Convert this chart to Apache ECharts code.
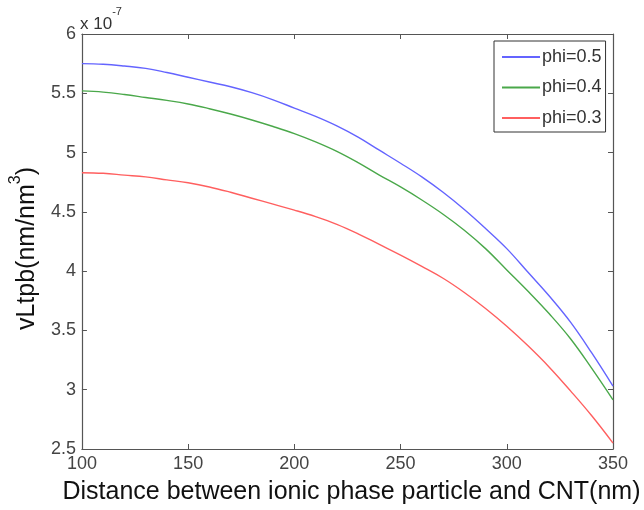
<!DOCTYPE html>
<html>
<head>
<meta charset="utf-8">
<script src="https://cdn.jsdelivr.net/npm/echarts@6/dist/echarts.min.js"></script>
<style>html,body{margin:0;padding:0;background:#fff}#c{width:644px;height:510px}</style>
</head>
<body>
<div id="c"></div>
<script>
var distance = [100,110,120,130,140,150,160,170,180,190,200,210,220,230,240,250,260,270,280,290,300,310,320,330,340,350];
var phi05 = [5.75,5.745,5.73,5.71,5.675,5.635,5.595,5.555,5.505,5.445,5.375,5.305,5.225,5.13,5.02,4.91,4.795,4.665,4.52,4.36,4.19,3.99,3.79,3.57,3.31,3.03];
var phi04 = [5.52,5.51,5.49,5.465,5.44,5.41,5.37,5.325,5.275,5.22,5.16,5.09,5.01,4.915,4.81,4.71,4.60,4.48,4.345,4.19,4.01,3.83,3.64,3.43,3.18,2.915];
var phi03 = [4.83,4.825,4.81,4.795,4.77,4.745,4.71,4.665,4.615,4.565,4.515,4.46,4.395,4.315,4.225,4.135,4.04,3.94,3.82,3.685,3.535,3.37,3.19,2.99,2.78,2.55];
var seriesNames = ['phi=0.5','phi=0.4','phi=0.3'];
var seriesColors = ['#6464ff','#4aa84a','#ff5f5f'];
var xTicks = {min:100,max:350,interval:50};
var yTicks = {min:2.5,max:6,interval:0.5};

var font = '"Liberation Sans", Arial, Helvetica, sans-serif';
function pairs(v){ return distance.map(function(d,i){return [d,v[i]];}); }
var allData = [phi05,phi04,phi03];
var chart = echarts.init(document.getElementById('c'), null, {renderer:'canvas'});
var axisLine = {show:true, lineStyle:{color:'#555', width:1.2}};
var axisTick = {show:true, inside:true, length:5, lineStyle:{color:'#555', width:1}};
chart.setOption({
  animation:false,
  backgroundColor:'#fff',
  grid:{left:80,right:31,top:34,bottom:58,containLabel:false},
  legend:{
    show:true, left:494, top:41, orient:'vertical',
    data:seriesNames,
    borderColor:'#333', borderWidth:1, padding:[7,4,5,7],
    itemWidth:38, itemHeight:14, itemGap:12.5,
    itemStyle:{opacity:0},
    textStyle:{fontFamily:font, fontSize:18, color:'#333', padding:[0,0,0,-3]},
    backgroundColor:'#fff'
  },
  graphic:[{
    type:'text', left:80, top:6,
    style:{
      text:'{a|x 10}{s|-7}',
      rich:{
        a:{fontFamily:font,fontSize:17,fill:'#333',lineHeight:27,verticalAlign:'bottom'},
        s:{fontFamily:font,fontSize:11,fill:'#333',lineHeight:27,verticalAlign:'top'}
      }
    }
  }],
  xAxis:[{
    type:'value', min:xTicks.min, max:xTicks.max, interval:xTicks.interval,
    axisLine:axisLine, axisTick:axisTick, splitLine:{show:false},
    axisLabel:{fontFamily:font, fontSize:18, color:'#444', margin:6},
    name:'Distance between ionic phase particle and CNT(nm)',
    nameLocation:'middle', nameGap:31,
    nameTextStyle:{fontFamily:font, fontSize:25, color:'#111', padding:[0,0,0,8]}
  },{
    type:'value', position:'top', min:xTicks.min, max:xTicks.max, interval:xTicks.interval,
    axisLine:axisLine, axisTick:axisTick, splitLine:{show:false}, axisLabel:{show:false}
  }],
  yAxis:[{
    type:'value', min:yTicks.min, max:yTicks.max, interval:yTicks.interval,
    axisLine:axisLine, axisTick:axisTick, splitLine:{show:false},
    axisLabel:{fontFamily:font, fontSize:18, color:'#444', margin:6},
    name:'{a|vLtpb(nm/nm}{s|3}{a|)}',
    nameLocation:'middle', nameGap:31, nameRotate:90,
    nameTextStyle:{
      padding:[0,14,0,0],
      rich:{
        a:{fontFamily:font,fontSize:25,color:'#111',lineHeight:32,verticalAlign:'bottom'},
        s:{fontFamily:font,fontSize:16,color:'#111',lineHeight:32,verticalAlign:'top'}
      }
    }
  },{
    type:'value', position:'right', min:yTicks.min, max:yTicks.max, interval:yTicks.interval,
    axisLine:axisLine, axisTick:axisTick, splitLine:{show:false}, axisLabel:{show:false}
  }],
  series: seriesNames.map(function(n,i){
    return {
      name:n, type:'line', data:pairs(allData[i]), smooth:0.4,
      symbol:'none', showSymbol:false, color:seriesColors[i],
      lineStyle:{width:1.4, color:seriesColors[i]}, itemStyle:{color:seriesColors[i]}
    };
  })
});
</script>
</body>
</html>
